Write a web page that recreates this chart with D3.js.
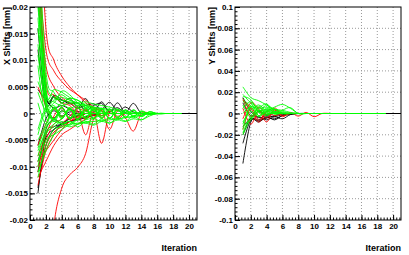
<!DOCTYPE html>
<html>
<head>
<meta charset="utf-8">
<script src="https://cdn.jsdelivr.net/npm/d3@7"></script>
<style>
body { margin: 0; background: #fff; }
svg { display: block; }
text { font-family: "Liberation Sans", Arial, sans-serif; font-weight: bold; }
</style>
</head>
<body>
<svg id="chart" width="409" height="255"></svg>
<script>
// iteration axis, shared by both pads
var iterMajor = [0, 2, 4, 6, 8, 10, 12, 14, 16, 18, 20]
var iterLabels = ["0", "2", "4", "6", "8", "10", "12", "14", "16", "18", "20"]

var xShiftTicks = [-0.02, -0.015, -0.01, -0.005, 0, 0.005, 0.01, 0.015, 0.02]
var xShiftLabels = ["-0.02", "-0.015", "-0.01", "-0.005", "0", "0.005", "0.01", "0.015", "0.02"]
var yShiftTicks = [-0.1, -0.08, -0.06, -0.04, -0.02, 0, 0.02, 0.04, 0.06, 0.08, 0.1]
var yShiftLabels = ["-0.1", "-0.08", "-0.06", "-0.04", "-0.02", "0", "0.02", "0.04", "0.06", "0.08", "0.1"]

// X shifts [mm], one value per iteration starting at iteration 1
var xBlack = [
    [.030, .004, .003, .0025, .002, .001, .0028, .0003, .0022, .0002, .002, .0002, .0019, 0, 0, 0, 0, 0, 0, 0, 0],
    [.022, .0035, .0032, .002, .0028, .0012, .0015, .0018, .0008, .0021, .0005, .0012, .0003, 0, 0, 0, 0, 0, 0, 0, 0],
    [.016, .002, .0034, .0026, .0018, .002, .0006, .0015, .0019, .0004, .0011, 0, 0, 0, 0, 0, 0, 0, 0, 0, 0],
    [-.015, -.004, -.0025, -.002, -.0015, -.0012, -.0008, -.0004, 0, 0, 0, 0, 0, 0, 0, 0, 0, 0, 0, 0, 0],
    [-.014, -.006, -.003, -.002, -.001, -.0005, 0, 0, 0, 0, 0, 0, 0, 0, 0, 0, 0, 0, 0, 0, 0],
    [-.011, -.003, -.0012, -.0018, -.0008, -.0004, 0, 0, 0, 0, 0, 0, 0, 0, 0, 0, 0, 0, 0, 0, 0],
    [.012, .001, -.0008, .0005, -.0003, 0, 0, 0, 0, 0, 0, 0, 0, 0, 0, 0, 0, 0, 0, 0, 0],
    [-.006, -.001, .0005, -.0005, .0003, 0, 0, 0, 0, 0, 0, 0, 0, 0, 0, 0, 0, 0, 0, 0, 0],
    [.0045, .0025, .001, .0015, .0008, .0004, 0, 0, 0, 0, 0, 0, 0, 0, 0, 0, 0, 0, 0, 0, 0],
    [-.009, -.0045, -.003, -.0022, -.0015, -.001, -.0006, -.0002, 0, 0, 0, 0, 0, 0, 0, 0, 0, 0, 0, 0, 0]
]
var xRed = [
    [.028, .012, .008, .006, .0045, .0035, .002, .001, .0005, 0, 0, 0, 0, 0, 0],
    [.045, .016, .010, .007, .005, .0035, .0025, .0012, .0005, 0, 0, 0, 0, 0, 0],
    [.022, .009, .005, .003, .002, .001, .0005, 0, 0, 0, 0, 0, 0, 0, 0],
    [.030, .006, .0035, .002, .0015, 0, -.001, 0, 0, 0, 0, 0, 0, 0, 0],
    [-.060, -.038, -.021, -.014, -.0115, -.0101, -.0075, -.001, -.0004, 0, 0, 0, 0, 0, 0],
    [-.0135, -.007, -.004, -.002, -.0005, .0005, -.004, .0003, -.0056, .0002, -.001, 0, 0, 0, 0],
    [-.010, -.005, -.002, -.001, .0008, -.0012, .0008, -.001, .0006, -.003, .0005, -.0008, -.0033, 0, 0],
    [-.008, -.004, -.0005, .001, -.001, .0012, -.0008, .0006, -.0004, 0, 0, 0, 0, 0, 0],
    [.005, .0015, -.001, .0012, -.0012, .001, -.001, .0008, -.0008, .0005, -.0005, 0, 0, 0, 0],
    [-.012, -.009, -.006, -.004, -.003, -.002, -.001, 0, 0, 0, 0, 0, 0, 0, 0],
    [-.006, -.002, .0008, -.0006, .0009, -.0009, .0006, -.0004, 0, 0, 0, 0, 0, 0, 0],
    [-.011, -.006, -.0035, -.0025, -.0015, -.0008, 0, 0, 0, 0, 0, 0, 0, 0, 0],
    [-.009, -.007, -.005, -.003, -.0015, -.0005, 0, 0, 0, 0, 0, 0, 0, 0, 0]
]
var xGreen = [
    [.030, .005, .003, .0035, .0025, .002, .0012, .0008, .0003, 0, 0, 0, 0, 0, 0, 0, 0, 0, 0],
    [.025, .004, .0045, .004, .003, .0025, .0015, .001, .0005, 0, 0, 0, 0, 0, 0, 0, 0, 0, 0],
    [.022, .003, .002, .0042, .0035, .002, .001, .0005, 0, 0, 0, 0, 0, 0, 0, 0, 0, 0, 0],
    [.018, .002, .001, .002, .0028, .0025, .0015, .0005, 0, 0, 0, 0, 0, 0, 0, 0, 0, 0, 0],
    [.013, .001, -.001, .0012, -.0009, .0011, -.0008, .001, -.0007, .0008, -.0006, .0005, -.0004, .0003, 0, 0, 0, 0, 0],
    [.009, -.001, .0012, -.001, .0011, -.0011, .001, -.001, .0009, -.0009, .0008, -.0007, .0006, -.0005, .0003, 0, 0, 0, 0],
    [.006, .002, -.0012, .0011, -.001, .0012, -.0011, .0009, -.001, .0008, -.0008, .0006, -.0005, .0004, -.0002, 0, 0, 0, 0],
    [.016, .0035, .0022, .0015, .002, .0015, .0018, .0012, .0008, .0005, 0, 0, 0, 0, 0, 0, 0, 0, 0],
    [.020, .006, .003, .0025, .0022, .0018, .0015, .0012, .001, .0008, .0005, .0002, 0, 0, 0, 0, 0, 0, 0],
    [-.012, -.006, -.003, -.0025, -.002, -.0018, -.0016, -.0015, -.0013, -.0012, -.001, -.0008, -.0005, -.0003, 0, 0, 0, 0, 0],
    [-.010, -.004, -.0025, -.0015, -.0022, -.0012, -.0018, -.001, -.0015, -.0008, -.0012, -.0006, -.0008, -.0003, 0, 0, 0, 0, 0],
    [-.008, -.003, -.001, -.002, -.0015, -.0025, -.0015, -.002, -.001, -.0018, -.0008, -.0014, -.0005, -.0012, -.0002, 0, 0, 0, 0],
    [-.005, -.002, .0008, -.001, .001, -.0012, .0009, -.001, .0008, -.0009, .0007, -.0008, .0006, -.0006, .0003, 0, 0, 0, 0],
    [-.003, .001, -.001, .0012, -.0011, .0011, -.001, .001, -.0009, .0009, -.0008, .0007, -.0006, .0005, -.0002, 0, 0, 0, 0],
    [-.009, -.005, -.004, -.003, -.002, -.001, -.0005, 0, 0, 0, 0, 0, 0, 0, 0, 0, 0, 0, 0],
    [-.011, -.007, -.004, -.002, -.0015, -.002, -.0012, -.0008, -.0004, 0, 0, 0, 0, 0, 0, 0, 0, 0, 0],
    [.002, -.002, .0012, -.0008, .001, -.0012, .0011, -.0009, .001, -.001, .0008, -.0008, .0007, -.0005, .0003, -.0001, 0, 0, 0],
    [-.0065, -.0025, -.0015, -.002, -.0025, -.002, -.0018, -.0022, -.0015, -.0018, -.0012, -.0015, -.001, -.0012, -.0005, 0, 0, 0, 0],
    [.011, .002, .0025, .003, .0025, .002, .0022, .0018, .0015, .0012, .0008, .0005, .0002, 0, 0, 0, 0, 0, 0],
    [-.004, .0005, -.0015, .0005, -.0008, -.0002, 0, 0, 0, 0, 0, 0, 0, 0, 0, 0, 0, 0, 0],
    [.035, .008, .004, .002, .001, .0015, .0005, 0, 0, 0, 0, 0, 0, 0, 0, 0, 0, 0, 0],
    [-.007, -.0035, -.002, -.001, .0008, -.0005, .0004, 0, 0, 0, 0, 0, 0, 0, 0, 0, 0, 0, 0],
    [.004, .0005, .0015, -.0005, .0006, 0, 0, 0, 0, 0, 0, 0, 0, 0, 0, 0, 0, 0, 0]
]

// Y shifts [mm]
var yBlack = [
    [-.047, -.008, -.006, -.004, -.005, -.002, 0, 0, 0, 0, 0, 0, 0, 0, 0, 0, 0, 0, 0, 0, 0],
    [-.028, -.006, -.008, -.003, -.006, -.002, -.001, 0, 0, 0, 0, 0, 0, 0, 0, 0, 0, 0, 0, 0, 0],
    [-.020, -.004, -.003, -.006, -.003, -.005, -.001, 0, 0, 0, 0, 0, 0, 0, 0, 0, 0, 0, 0, 0, 0],
    [.015, .002, -.004, -.002, -.003, -.001, 0, 0, 0, 0, 0, 0, 0, 0, 0, 0, 0, 0, 0, 0, 0],
    [-.012, -.005, -.007, -.004, -.002, 0, 0, 0, 0, 0, 0, 0, 0, 0, 0, 0, 0, 0, 0, 0, 0],
    [.010, -.002, .002, -.001, 0, 0, 0, 0, 0, 0, 0, 0, 0, 0, 0, 0, 0, 0, 0, 0, 0]
]
var yRed = [
    [.012, .005, -.008, .002, .004, -.003, .001, -.0025, .001, -.003, 0, 0],
    [-.005, .010, .004, -.008, .005, -.002, 0, 0, 0, 0, 0, 0],
    [.005, -.010, .003, -.004, .003, 0, 0, 0, 0, 0, 0, 0],
    [-.015, .005, -.006, .002, -.002, 0, 0, 0, 0, 0, 0, 0],
    [.014, -.003, .006, -.001, .001, 0, 0, 0, 0, 0, 0, 0]
]
var yGreen = [
    [.025, .015, .012, .008, .004, .002, 0, 0, 0, 0, 0, 0, 0, 0, 0, 0, 0, 0, 0],
    [.018, .010, .006, .009, .002, .001, 0, 0, 0, 0, 0, 0, 0, 0, 0, 0, 0, 0, 0],
    [.012, .004, .008, .003, .006, .0085, .005, 0, 0, 0, 0, 0, 0, 0, 0, 0, 0, 0, 0],
    [.016, .013, .002, .008, -.001, .003, .0055, 0, 0, 0, 0, 0, 0, 0, 0, 0, 0, 0, 0],
    [-.020, -.005, .005, .002, .004, 0, 0, 0, 0, 0, 0, 0, 0, 0, 0, 0, 0, 0, 0],
    [-.015, .008, -.002, .005, .001, 0, 0, 0, 0, 0, 0, 0, 0, 0, 0, 0, 0, 0, 0],
    [-.010, .006, .0015, -.002, .002, 0, 0, 0, 0, 0, 0, 0, 0, 0, 0, 0, 0, 0, 0],
    [.008, -.004, .003, .001, 0, 0, 0, 0, 0, 0, 0, 0, 0, 0, 0, 0, 0, 0, 0],
    [-.018, -.002, .003, -.001, .001, 0, 0, 0, 0, 0, 0, 0, 0, 0, 0, 0, 0, 0, 0],
    [.014, .007, .005, .006, .004, .003, .001, 0, 0, 0, 0, 0, 0, 0, 0, 0, 0, 0, 0],
    [.005, .011, .003, .004, .002, 0, 0, 0, 0, 0, 0, 0, 0, 0, 0, 0, 0, 0, 0],
    [-.008, .002, -.003, .002, 0, 0, 0, 0, 0, 0, 0, 0, 0, 0, 0, 0, 0, 0, 0],
    [0, .006, -.002, .003, 0, 0, 0, 0, 0, 0, 0, 0, 0, 0, 0, 0, 0, 0, 0],
    [-.012, -.006, .001, 0, 0, 0, 0, 0, 0, 0, 0, 0, 0, 0, 0, 0, 0, 0, 0]
]

var svg = d3.select("#chart")

function drawPad(p) {
    var top = 7, bottom = 220
    var x = d3.scaleLinear().domain([0, 21]).range([p.left, p.right])
    var y = d3.scaleLinear().domain(p.domain).range([bottom, top])
    var g = svg.append("g")

    // dotted grid
    g.append("g").selectAll("line")
        .data(iterMajor.filter(d => d > 0))
        .enter().append("line")
            .attr("x1", d => x(d)).attr("x2", d => x(d))
            .attr("y1", top).attr("y2", bottom)
            .attr("stroke", "#999").attr("stroke-dasharray", "1,2")
    g.append("g").selectAll("line")
        .data(p.ticks.filter(d => d > p.domain[0] && d < p.domain[1]))
        .enter().append("line")
            .attr("x1", p.left).attr("x2", p.right)
            .attr("y1", d => y(d)).attr("y2", d => y(d))
            .attr("stroke", "#999").attr("stroke-dasharray", "1,2")

    g.append("clipPath").attr("id", p.id)
        .append("rect")
            .attr("x", p.left).attr("y", top)
            .attr("width", p.right - p.left).attr("height", bottom - top)

    var line = d3.line()
        .x((d, i) => x(i + 1))
        .y(d => y(d))
        .curve(d3.curveCardinal.tension(0))

    var curves = g.append("g").attr("clip-path", "url(#" + p.id + ")")
    p.series.forEach(function (s) {
        curves.append("g").selectAll("path")
            .data(s.data)
            .enter().append("path")
                .attr("d", line)
                .attr("fill", "none")
                .attr("stroke", s.color)
                .attr("stroke-width", 0.9)
    })

    // axes, ticks pointing inwards like ROOT
    var xAxis = d3.axisBottom(x)
        .tickValues(iterMajor)
        .tickFormat((d, i) => iterLabels[i])
        .tickSize(-5).tickPadding(3)
    var xMinor = d3.axisBottom(x)
        .tickValues(d3.range(0, 21.01, 0.4))
        .tickFormat("").tickSize(-2.5)
    var yAxis = d3.axisLeft(y)
        .tickValues(p.ticks)
        .tickFormat((d, i) => p.labels[i])
        .tickSize(-5).tickPadding(2)
    var yMinor = d3.axisLeft(y)
        .tickValues(d3.range(p.domain[0], p.domain[1] + p.minor / 2, p.minor))
        .tickFormat("").tickSize(-2.5)

    ;[xMinor, xAxis].forEach(function (a) {
        g.append("g").attr("transform", "translate(0," + bottom + ")").call(a)
    })
    ;[yMinor, yAxis].forEach(function (a) {
        g.append("g").attr("transform", "translate(" + p.left + ",0)").call(a)
    })
    g.selectAll(".domain").remove()
    g.selectAll(".tick text").attr("font-size", 8).attr("fill", "#000")
        .style("font-family", "'Liberation Sans', Arial, sans-serif")

    g.append("rect")
        .attr("x", p.left).attr("y", top)
        .attr("width", p.right - p.left).attr("height", bottom - top)
        .attr("fill", "none").attr("stroke", "#000")

    g.append("text")
        .attr("transform", "translate(" + (p.left - 20) + "," + top + ") rotate(-90)")
        .attr("text-anchor", "end")
        .attr("font-size", 9)
        .text(p.title)
    g.append("text")
        .attr("x", p.right).attr("y", 251)
        .attr("text-anchor", "end")
        .attr("font-size", 9)
        .text("Iteration")
}

drawPad({
    id: "clipX", left: 30, right: 197,
    domain: [-0.02, 0.02], ticks: xShiftTicks, labels: xShiftLabels, minor: 0.001,
    title: "X Shifts [mm]",
    series: [
        { color: "#000000", data: xBlack },
        { color: "#ff0000", data: xRed },
        { color: "#00ff00", data: xGreen }
    ]
})
drawPad({
    id: "clipY", left: 235, right: 401,
    domain: [-0.1, 0.1], ticks: yShiftTicks, labels: yShiftLabels, minor: 0.004,
    title: "Y Shifts [mm]",
    series: [
        { color: "#000000", data: yBlack },
        { color: "#ff0000", data: yRed },
        { color: "#00ff00", data: yGreen }
    ]
})
</script>
</body>
</html>
